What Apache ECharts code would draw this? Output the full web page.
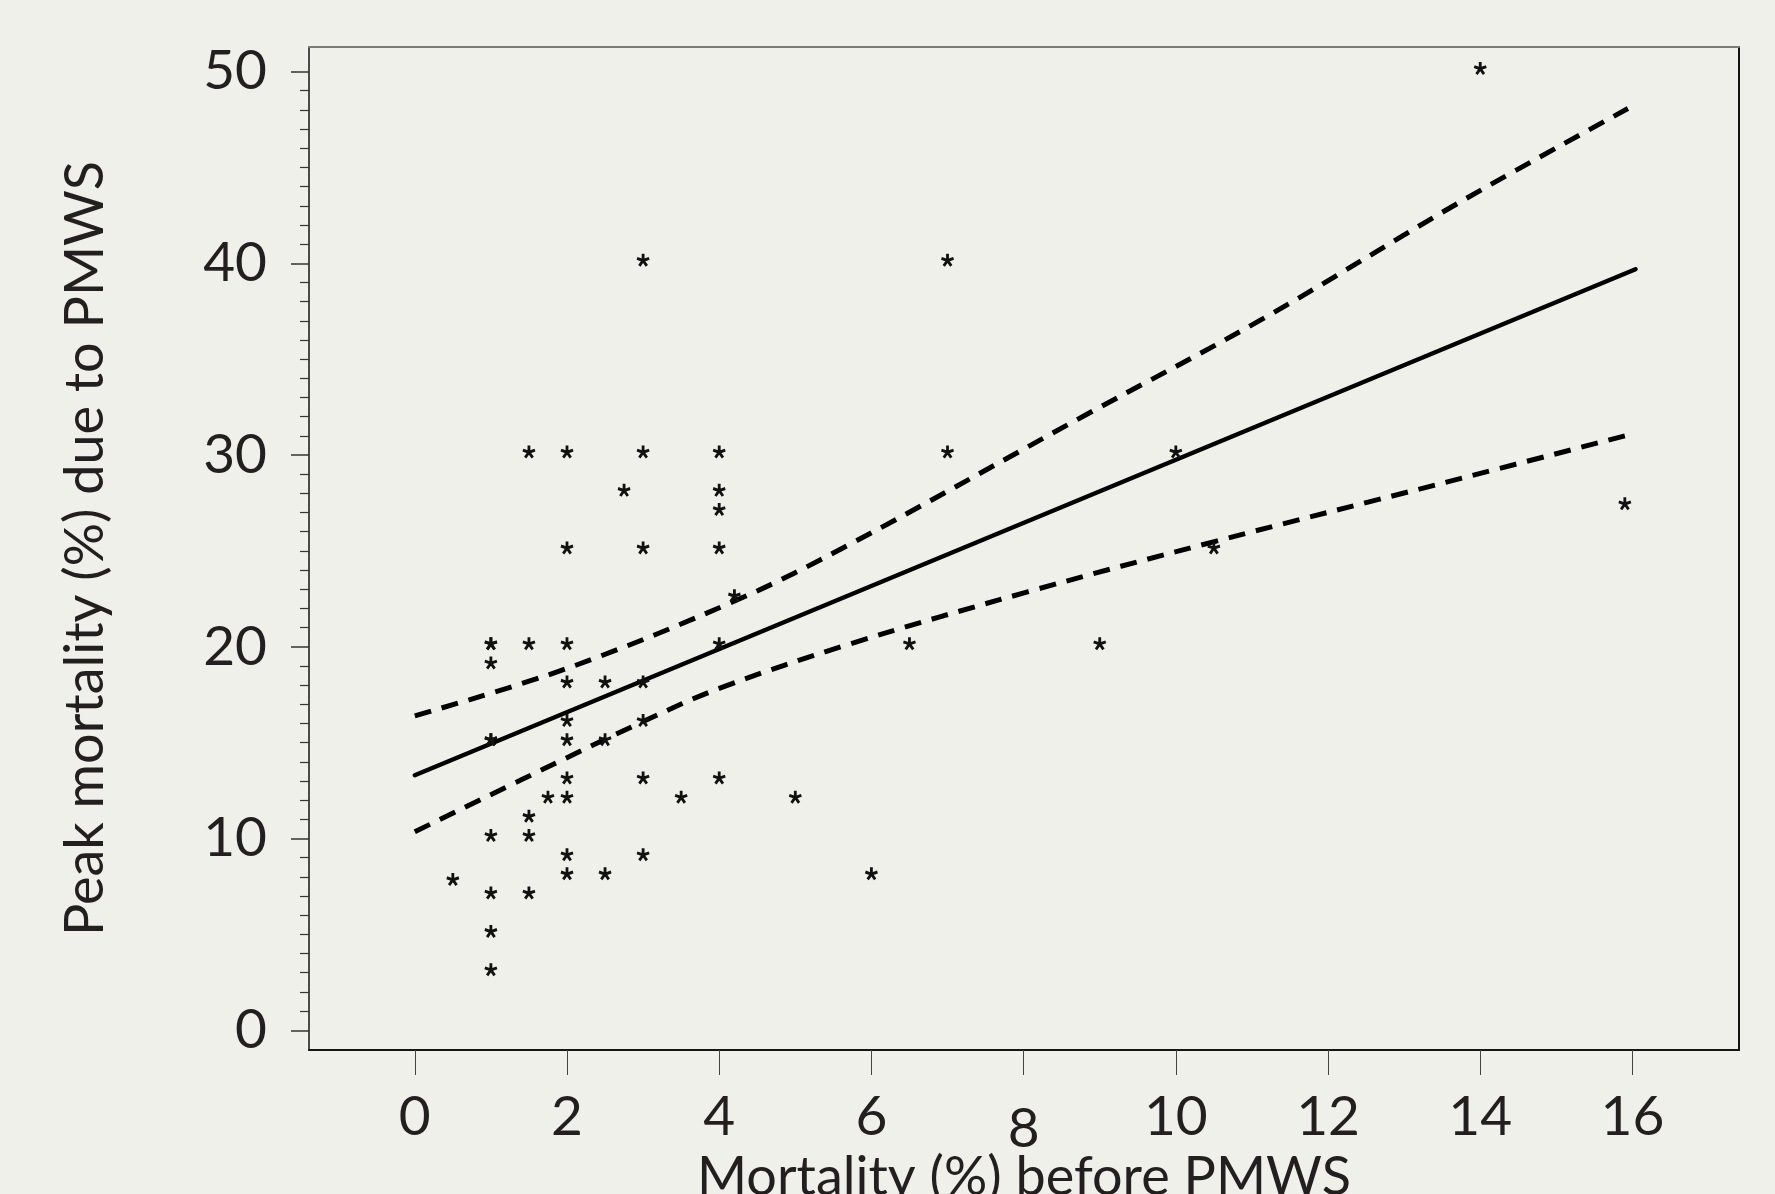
<!DOCTYPE html>
<html>
<head>
<meta charset="utf-8">
<script src="https://cdn.jsdelivr.net/npm/echarts@6/dist/echarts.min.js"></script>
<style>
html,body{margin:0;padding:0;background:#f0f0eb;}
#chart{width:1775px;height:1194px;}
</style>
</head>
<body>
<div id="chart"></div>
<script>
// ---- data ----
const scatterX = [0.5, 1, 1, 1, 1, 1, 1, 1, 1, 1, 1.5, 1.5, 1.5, 1.5, 1.5, 1.75,
  2, 2, 2, 2, 2, 2, 2, 2, 2, 2, 2.5, 2.5, 2.5, 2.75,
  3, 3, 3, 3, 3, 3, 3, 3.5, 4, 4, 4, 4, 4, 4, 4.2, 5, 6, 6.5, 7, 7, 9, 10, 10.5, 14, 15.9];
const scatterY = [7.7, 20, 20, 19, 15, 15, 10, 7, 5, 3, 30, 20, 11, 10, 7, 12,
  30, 25, 20, 18, 16, 15, 13, 12, 9, 8, 18, 15, 8, 28,
  40, 30, 25, 18, 16, 13, 9, 12, 30, 28, 27, 25, 20, 13, 22.5, 12, 8, 20, 40, 30, 20, 30, 25, 50, 27.3];

const fitX = [0, 16.04];
const fitY = [13.3, 39.69];

const upperX = [0, 2, 4.27, 5.72, 8.82, 11.14, 13.78, 15.94];
const upperY = [16.4, 18.87, 22.5, 25.35, 32.1, 37.1, 43.3, 48.07];

const lowerX = [0, 1.42, 3.0, 4.0, 5.72, 8.04, 10.52, 13.47, 15.98];
const lowerY = [10.35, 13.1, 16.1, 17.83, 20.15, 22.85, 25.5, 28.5, 31.08];

const xTicks = [0, 2, 4, 6, 8, 10, 12, 14, 16];
const yTicks = [0, 10, 20, 30, 40, 50];
const yMinorTicks = [];
for (let v = 1; v < 50; v++) { if (v % 10 !== 0) yMinorTicks.push(v); }

const xTitle = 'Mortality (%) before PMWS';
const yTitle = 'Peak mortality (%) due to PMWS';

// ---- styling ----
const FONT = 'Lato, "Noto Sans", sans-serif';
const TXT = '#231f20';

function starPath() {
  const w = 1.15, L = 5.2;
  let s = '';
  for (let k = 0; k < 5; k++) {
    const a = k * 72 * Math.PI / 180;
    const dx = Math.sin(a), dy = -Math.cos(a);
    const px = Math.cos(a), py = Math.sin(a);
    const pts = [
      [-w * px - 0.6 * dx, -w * py - 0.6 * dy],
      [w * px - 0.6 * dx, w * py - 0.6 * dy],
      [w * px + L * dx, w * py + L * dy],
      [-w * px + L * dx, -w * py + L * dy]
    ];
    s += 'M' + pts.map(p => p[0].toFixed(3) + ',' + p[1].toFixed(3)).join('L') + 'Z';
  }
  return 'path://' + s;
}

const zip = (a, b) => a.map((v, i) => [v, b[i]]);

const X_MIN = -1.39, X_MAX = 17.4, Y_MIN = -1.03, Y_MAX = 51.28;

const chart = echarts.init(document.getElementById('chart'), null, {renderer: 'canvas'});
chart.setOption({
  backgroundColor: '#f0f0eb',
  animation: false,
  grid: {left: 309, top: 47, right: 36, bottom: 144, show: false, containLabel: false, outerBoundsMode: 'none'},
  xAxis: [{
    type: 'value', min: X_MIN, max: X_MAX, position: 'bottom',
    axisLine: {show: true, onZero: false, lineStyle: {color: '#151515', width: 2}},
    axisTick: {show: true, customValues: xTicks, length: 25, inside: false, lineStyle: {color: '#444', width: 1}},
    axisLabel: {
      customValues: xTicks, margin: 40, fontSize: 55, color: TXT, fontFamily: FONT,
      formatter: v => (v === 8 ? '{lo|8}' : String(v)),
      rich: {lo: {fontSize: 55, color: TXT, fontFamily: FONT, padding: [12, 0, 0, 0]}}
    },
    splitLine: {show: false},
    name: xTitle, nameLocation: 'middle', nameGap: 101, nameMoveOverlap: false,
    nameTextStyle: {fontSize: 54, color: TXT, fontFamily: FONT}
  }, {
    type: 'value', min: X_MIN, max: X_MAX, position: 'top',
    axisLine: {show: true, onZero: false, lineStyle: {color: '#7a7a7a', width: 2}},
    axisTick: {show: false}, axisLabel: {show: false}, splitLine: {show: false}
  }],
  yAxis: [{
    type: 'value', min: Y_MIN, max: Y_MAX, position: 'left',
    axisLine: {show: true, onZero: false, lineStyle: {color: '#151515', width: 1.5}},
    axisTick: {show: true, customValues: yTicks, length: 18, inside: false, lineStyle: {color: '#333', width: 1.5}},
    axisLabel: {customValues: yTicks, margin: 42, fontSize: 55, color: TXT, fontFamily: FONT},
    splitLine: {show: false},
    name: yTitle, nameLocation: 'middle', nameGap: 196, nameMoveOverlap: false,
    nameTextStyle: {fontSize: 54, color: TXT, fontFamily: FONT}
  }, {
    type: 'value', min: Y_MIN, max: Y_MAX, position: 'left',
    axisLine: {show: false, onZero: false},
    axisTick: {show: true, customValues: yMinorTicks, length: 9, inside: false, lineStyle: {color: '#333', width: 1.2}},
    axisLabel: {show: false}, splitLine: {show: false}
  }, {
    type: 'value', min: Y_MIN, max: Y_MAX, position: 'right',
    axisLine: {show: true, onZero: false, lineStyle: {color: '#151515', width: 2}},
    axisTick: {show: false}, axisLabel: {show: false}, splitLine: {show: false}
  }],
  series: [{
    type: 'scatter',
    data: zip(scatterX, scatterY),
    symbol: starPath(),
    symbolSize: [13, 13],
    symbolOffset: [0, -3],
    itemStyle: {color: '#111', opacity: 1},
    z: 5
  }, {
    type: 'line',
    data: zip(fitX, fitY),
    showSymbol: false, symbol: 'none',
    lineStyle: {color: '#000', width: 4.5, cap: 'round'},
    z: 4
  }, {
    type: 'line',
    data: zip(upperX, upperY),
    smooth: 0.35, showSymbol: false, symbol: 'none',
    lineStyle: {color: '#000', width: 5, type: [17, 11]},
    z: 4
  }, {
    type: 'line',
    data: zip(lowerX, lowerY),
    smooth: 0.35, showSymbol: false, symbol: 'none',
    lineStyle: {color: '#000', width: 5, type: [17, 11]},
    z: 4
  }]
});
</script>
</body>
</html>
